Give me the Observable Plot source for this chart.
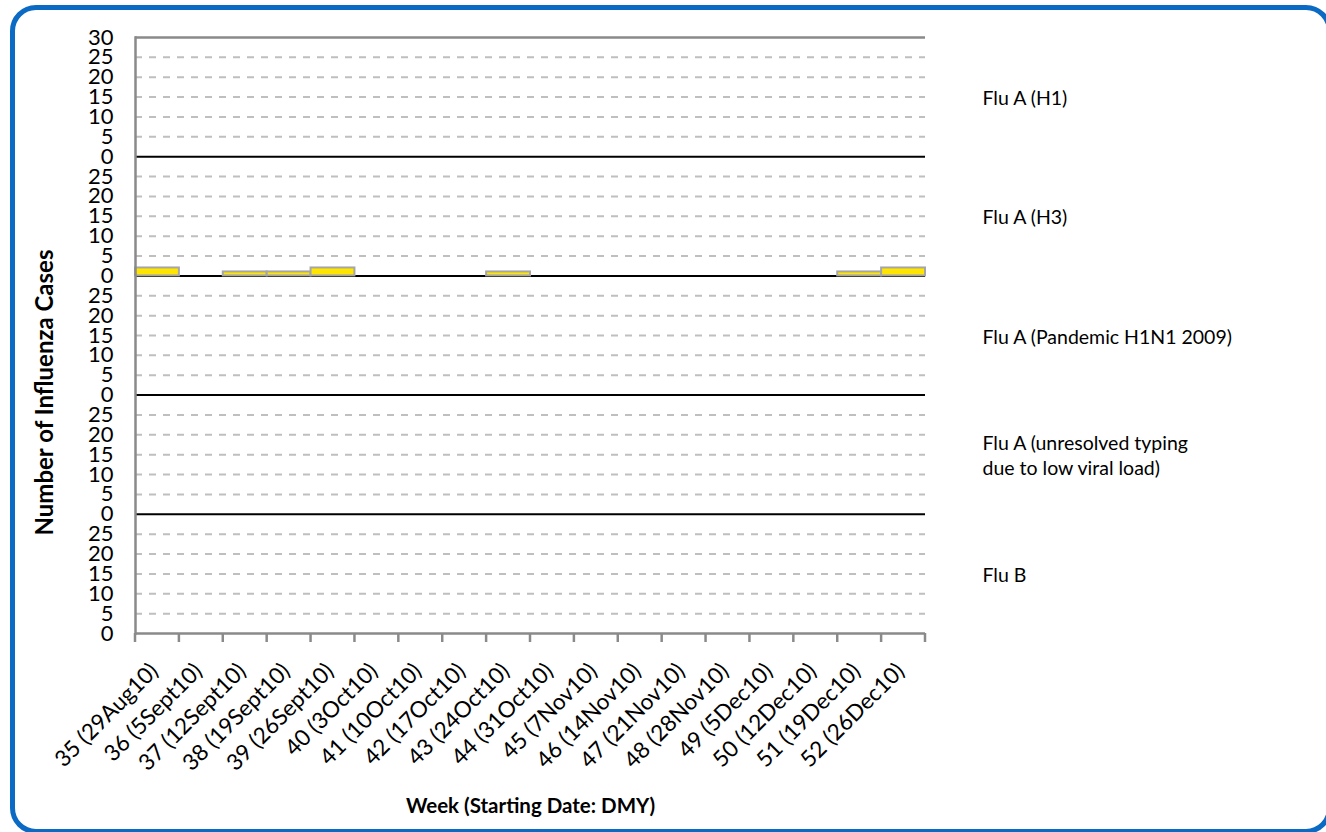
<!DOCTYPE html>
<html>
<head>
<meta charset="utf-8">
<script src="https://cdn.jsdelivr.net/npm/d3@7"></script>
<script src="https://cdn.jsdelivr.net/npm/@observablehq/plot@0.6"></script>
<style>
  html, body { margin: 0; padding: 0; background: #fff; }
  #wrap { position: relative; width: 1326px; height: 832px; overflow: hidden; font-family: Lato, "Open Sans", sans-serif; }
  #border { position: absolute; left: 10px; top: 5px; width: 1312px; height: 819px; border: 5px solid #0B6AC4; border-radius: 26px; pointer-events: none; }
  svg { display: block; }
</style>
</head>
<body>
<div id="wrap"><div id="chart"></div><div id="border"></div></div>
<script>
// ---- data ----
const weeks = ["35 (29Aug10)","36 (5Sept10)","37 (12Sept10)","38 (19Sept10)","39 (26Sept10)","40 (3Oct10)","41 (10Oct10)","42 (17Oct10)","43 (24Oct10)","44 (31Oct10)","45 (7Nov10)","46 (14Nov10)","47 (21Nov10)","48 (28Nov10)","49 (5Dec10)","50 (12Dec10)","51 (19Dec10)","52 (26Dec10)"];
const panels = ["Flu A (H1)","Flu A (H3)","Flu A (Pandemic H1N1 2009)","Flu A (unresolved typing\ndue to low viral load)","Flu B"];
const fluA_H1        = [0,0,0,0,0,0,0,0,0,0,0,0,0,0,0,0,0,0];
const fluA_H3        = [2,0,1,1,2,0,0,0,1,0,0,0,0,0,0,0,1,2];
const fluA_pandemic  = [0,0,0,0,0,0,0,0,0,0,0,0,0,0,0,0,0,0];
const fluA_unresolved= [0,0,0,0,0,0,0,0,0,0,0,0,0,0,0,0,0,0];
const fluB           = [0,0,0,0,0,0,0,0,0,0,0,0,0,0,0,0,0,0];
const panelMax = 30;          // each panel axis 0..30
const tickStep = 5;

// ---- build table ----
const series = [fluA_H1, fluA_H3, fluA_pandemic, fluA_unresolved, fluB];
const nP = panels.length;
const rows = [];
series.forEach((vals, i) => {
  const base = (nP - 1 - i) * panelMax;
  vals.forEach((v, j) => rows.push({week: weeks[j], panel: panels[i], value: v, base}));
});
const yTop = nP * panelMax;
const yTicks = d3.range(0, yTop + 1, tickStep);
const zeroLines = d3.range(panelMax, yTop, panelMax);
const gridLines = yTicks.filter(v => v % panelMax !== 0);
const labelRows = panels.map((p, i) => ({panel: p, y: (nP - 1 - i) * panelMax + panelMax / 2}));

const chart = Plot.plot({
  width: 1326,
  height: 832,
  marginLeft: 135,
  marginRight: 401,
  marginTop: 37,
  marginBottom: 199,
  style: {fontFamily: "Lato, 'Open Sans', sans-serif", color: "#000", background: "transparent"},
  x: {domain: weeks, padding: 0, round: false},
  y: {domain: [0, yTop]},
  marks: [
    Plot.ruleY(gridLines, {stroke: "#BFBFBF", strokeWidth: 2, strokeDasharray: "7,7"}),
    Plot.ruleY(zeroLines, {stroke: "#000", strokeWidth: 2}),
    Plot.ruleY([yTop], {stroke: "#8A8A8A", strokeWidth: 2.5}),
    Plot.rectY(rows.filter(d => d.value > 0), {
      x: "week", y1: "base", y2: d => d.base + d.value,
      fill: "#FFE500", stroke: "#A6A6A6", strokeWidth: 2, inset: 0
    }),
    Plot.ruleY([0], {stroke: "#8A8A8A", strokeWidth: 2.5}),
    Plot.frame({anchor: "left", stroke: "#8A8A8A", strokeWidth: 2.5}),
    Plot.axisY({ticks: yTicks, tickFormat: v => v === yTop ? String(panelMax) : String(v % panelMax),
      tickSize: 0, tickPadding: 22, fontSize: 22, label: null}),
    Plot.axisX({tickRotate: -45, tickSize: 0, tickPadding: 34, dx: -3, fontSize: 22.5, label: null}),
    Plot.text(labelRows, {y: "y", text: "panel", frameAnchor: "right", dx: 57, textAnchor: "start",
      fontSize: 19.5, lineHeight: 1.3}),
    Plot.text(["Number of Influenza Cases"], {frameAnchor: "left", textAnchor: "middle", dx: -90, dy: 57, rotate: -90,
      fontWeight: "bold", fontSize: 24}),
    Plot.text(["Week (Starting Date: DMY)"], {frameAnchor: "bottom", dy: 179,
      fontWeight: "bold", fontSize: 20.5})
  ]
});

// category boundary tick marks on the x axis, from Plot's own scales
const xs = chart.scale("x");
const ys = chart.scale("y");
const y0 = ys.apply(0);
const bounds = weeks.map(w => xs.apply(w)).concat([xs.apply(weeks[weeks.length - 1]) + xs.bandwidth]);
d3.select(chart).append("g")
  .attr("stroke", "#8A8A8A").attr("stroke-width", 2.5)
  .selectAll("line").data(bounds).join("line")
  .attr("x1", d => d).attr("x2", d => d)
  .attr("y1", y0).attr("y2", y0 + 9);

document.getElementById("chart").appendChild(chart);
</script>
</body>
</html>
